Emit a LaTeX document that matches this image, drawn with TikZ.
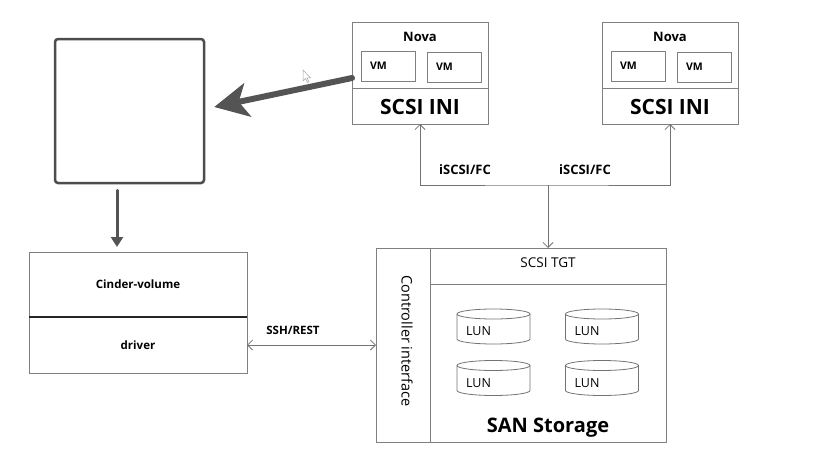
\documentclass[tikz,border=0pt]{standalone}
\usepackage{fontspec}
\setmainfont{Open Sans}
\usetikzlibrary{arrows.meta}

\begin{document}
\begin{tikzpicture}[x=1pt,y=-1pt,>={Straight Barb[length=5pt,width=10pt]},
	box/.style={draw=black!50,line width=0.9pt,inner sep=0pt,outer sep=0pt},
	vmbox/.style={box,minimum height=30pt,text width=36pt,inner xsep=9pt,align=left,font=\bfseries\fontsize{10.5}{12}\selectfont},
	wire/.style={draw=black!55,line width=0.8pt},
	lbl/.style={font=\bfseries\fontsize{11.5}{13}\selectfont},
	fat/.style={draw=black!67,line cap=round}]
			\useasboundingbox (0,0) rectangle (825,474);
			\node[draw=black!70,line width=2.5pt,rounded corners=3pt,minimum width=149pt,minimum height=144pt] (store) at (129.5,111) {};
			\foreach \n/\x in {1/420,2/670}{
				\node[box,minimum width=136pt,minimum height=102pt] (nova\n) at (\x,73) {};
				\draw[box] (nova\n.west |- 0,88) -- (nova\n.east |- 0,88);
				\node[font=\bfseries\fontsize{13}{15}\selectfont] (novat\n) at (\x,37) {Nova};
				\node[vmbox] (vma\n) at (\x-32,66) {VM};
				\node[vmbox] (vmb\n) at (\x+34,67) {VM};
				\node[font=\bfseries\fontsize{21}{24}\selectfont] (ini\n) at (\x,107) {SCSI INI};
			}
			\node[box,minimum width=218pt,minimum height=65pt,lbl] (cvol) at (138,284.5) {Cinder-volume};
			\node[box,minimum width=218pt,minimum height=56pt,lbl] (drv) at (138,345) {driver};
			\draw[black!85,line width=1.3pt] (cvol.south west) -- (cvol.south east);
			\node[box,minimum width=290pt,minimum height=194pt] (san) at (521,345) {};
			\node[box,minimum width=54pt,minimum height=194pt] (ctrl) at (403,345) {};
			\node[rotate=-90,font=\fontsize{14.5}{16}\selectfont] (ctrlt) at (407,341) {Controller interface};
			\node[box,minimum width=236pt,minimum height=36pt] (tgt) at (548,266) {};
			\node[font=\fontsize{13.5}{15}\selectfont] (tgtt) at (548,263) {SCSI TGT};
			\node[font=\bfseries\fontsize{20}{23}\selectfont] (sant) at (548,428) {SAN Storage};
			\foreach \i/\x/\y in {1/493.5/326.5,2/602/326.5,3/493.5/378,4/602/378}{
				\draw[wire] (\x-36.5,\y-12.5) -- (\x-36.5,\y+12.5) arc (180:0:36.5 and 5) -- (\x+36.5,\y-12.5);
				\draw[wire] (\x,\y-12.5) ellipse (36.5 and 5);
				\node[font=\fontsize{12.5}{14}\selectfont] (lun\i) at (\x-15,\y+5) {LUN};
			}
			\coordinate (jn) at (548,185);
			\draw[wire,<->] (nova1.south) |- (jn) -| (nova2.south);
			\draw[wire,->] (jn) -- (tgt.north);
			\draw[wire,<->] (drv.east) -- (ctrl.west);
			\node[lbl,font=\bfseries\fontsize{13}{15}\selectfont] (fc1) at (465,170) {iSCSI/FC};
			\node[lbl,font=\bfseries\fontsize{13}{15}\selectfont] (fc2) at (585,170) {iSCSI/FC};
			\node[lbl] (ssh) at (293,330) {SSH/REST};
			\draw[fat,line width=6pt,-{Stealth[length=34pt,width=34pt,inset=9pt]}] ([yshift=-5pt]nova1.west) -- ([xshift=9pt,yshift=4pt]store.east);
			\draw[fat,line width=3pt,-{Triangle[length=10pt,width=12pt]}] ([xshift=-12.5pt,yshift=-6pt]store.south) -- ([xshift=-21pt,yshift=5pt]cvol.north);
			\draw[black!35,line width=0.5pt,fill=white] (303,70) -- (303,81) -- (305.5,78.5) -- (307.5,82.5) -- (309,81.8) -- (307,77.8) -- (310.5,77.8) -- cycle;
\end{tikzpicture}
\end{document}
